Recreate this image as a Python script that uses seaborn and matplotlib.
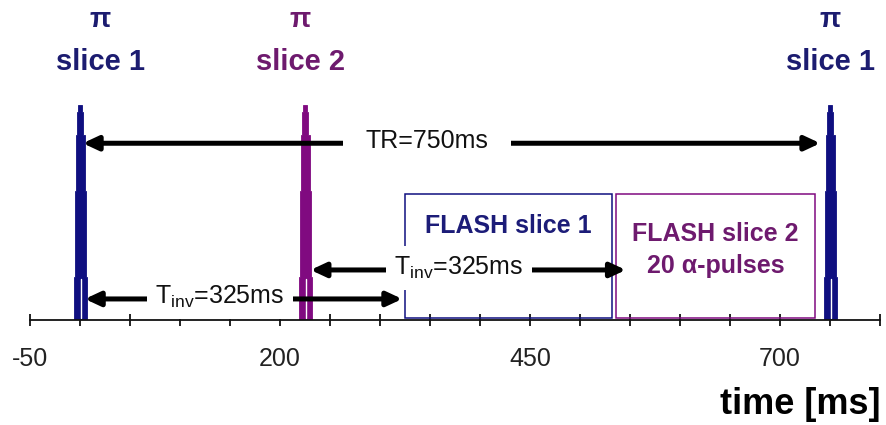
import numpy as np
import matplotlib
matplotlib.use("Agg")
import matplotlib.pyplot as plt
from matplotlib.patches import Rectangle
import seaborn as sns

# --- data (ms) ---
pulse_times = [0, 225, 750]
pulse_labels = ["slice 1", "slice 2", "slice 1"]
label_pos = [20, 220, 750]
# stepped pulse profile: level bounds as fraction of pulse height, half width in ms
profile_levels = [0.0, 0.2, 0.6, 0.86, 0.97, 1.0]
profile_halfw = [6.5, 5.5, 4.5, 3.0, 2.0]

flash_names = ["FLASH slice 1", "FLASH slice 2\n20 \u03b1-pulses"]
flash_start = [325, 536]
flash_end = [532, 735]

tr_value = 750
tinv_value = 325

tick_pos = np.arange(-50, 801, 50)
tick_lab = ["-50", "200", "450", "700"]

NAVY = "#0f0f80"
PURPLE = "#800a80"
colors = [NAVY, PURPLE, NAVY]
text_colors = ["#1c1c70", "#6e1a6e", "#1c1c70"]

sns.set_theme(style="white")
plt.rcParams["font.family"] = ["Liberation Sans", "DejaVu Sans"]
plt.rcParams["mathtext.fontset"] = "custom"
plt.rcParams["mathtext.rm"] = "Liberation Sans"
plt.rcParams["mathtext.it"] = "Liberation Sans:italic"
plt.rcParams["mathtext.bf"] = "Liberation Sans:bold"

fig = plt.figure(figsize=(8.86, 4.25), dpi=100)
ax = fig.add_axes([30 / 886, 105 / 425, 850 / 886, 320 / 425])
ax.set_xlim(-50, 800)
ax.set_ylim(0, 1.49)

# RF pulses as one stepped polygon each
ys = np.repeat(profile_levels, 2)[1:-1]
hws = np.repeat(profile_halfw, 2)
for t, col, lab, lx, tc in zip(pulse_times, colors, pulse_labels, label_pos, text_colors):
    px = np.concatenate([t + hws, (t - hws)[::-1]])
    py = np.concatenate([ys, ys[::-1]])
    ax.fill(px, py, color=col, lw=0.6, ec=col, zorder=2)
    ax.plot([t + 0.5, t + 0.5], [0.01, 0.19], color="white", lw=1.0, zorder=2.5)
    ax.text(lx, 1.20, lab, ha="center", va="center", fontsize=21,
            fontweight="bold", color=tc, clip_on=False)
    ax.text(lx, 1.395, "\u03c0", ha="center", va="center", fontsize=20,
            fontweight="bold", color=tc, clip_on=False)

# FLASH readout blocks
box_cols = [NAVY, PURPLE]
for name, s, e, bc, tc in zip(flash_names, flash_start, flash_end, box_cols,
                              ["#1c1c78", "#6e1a6e"]):
    ax.add_patch(Rectangle((s, 0.01), e - s, 0.575, fill=False, ec=bc,
                           lw=1.1, zorder=2))
    ty = 0.437 if "\n" not in name else 0.325
    ax.text((s + e) / 2, ty, name, ha="center", va="center", fontsize=18,
            fontweight="bold", color=tc, linespacing=1.45, zorder=3)

# timing arrows
astyle = "<|-|>,head_length=0.6,head_width=0.28"


def timing_arrow(t0, t1, y, label, tx, pad, sa, sb):
    ax.annotate("", xy=(t1, y), xytext=(t0, y),
                arrowprops=dict(arrowstyle=astyle, lw=3.6, color="black",
                                mutation_scale=15, shrinkA=sa, shrinkB=sb),
                zorder=4)
    ax.text(tx, y + 0.01, label, ha="center", va="center", fontsize=18,
            color="#111111", zorder=5,
            bbox=dict(boxstyle=f"square,pad={pad}", fc="white", ec="none"))


timing_arrow(pulse_times[0], pulse_times[0] + tr_value, 0.823,
             f"TR={tr_value}ms", 347, 0.9, 2, 7)
timing_arrow(pulse_times[0], pulse_times[0] + tinv_value, 0.098,
             "T$_{\\rm inv}$=" + f"{tinv_value}ms", 140, 0.35, 3.5, 2)
timing_arrow(pulse_times[1], pulse_times[1] + tinv_value, 0.233,
             "T$_{\\rm inv}$=" + f"{tinv_value}ms", 379, 0.35, 4, 3)

# axis
sns.despine(ax=ax, left=True, top=True, right=True)
ax.spines["bottom"].set_color("#111111")
ax.spines["bottom"].set_linewidth(1.3)
ax.set_yticks([])
ax.set_xticks(tick_pos)
ax.set_xticklabels([str(v) if str(v) in tick_lab else "" for v in tick_pos])
ax.tick_params(axis="x", direction="inout", length=9, width=1.3,
               color="#111111", labelsize=18, labelcolor="#222222", pad=15,
               bottom=True)
ax.grid(False)

fig.text(880 / 886, 21 / 425, "time [ms]", ha="right", va="center",
         fontsize=26, fontweight="bold", color="black")

fig.savefig("out.png", dpi=100, facecolor="white")
